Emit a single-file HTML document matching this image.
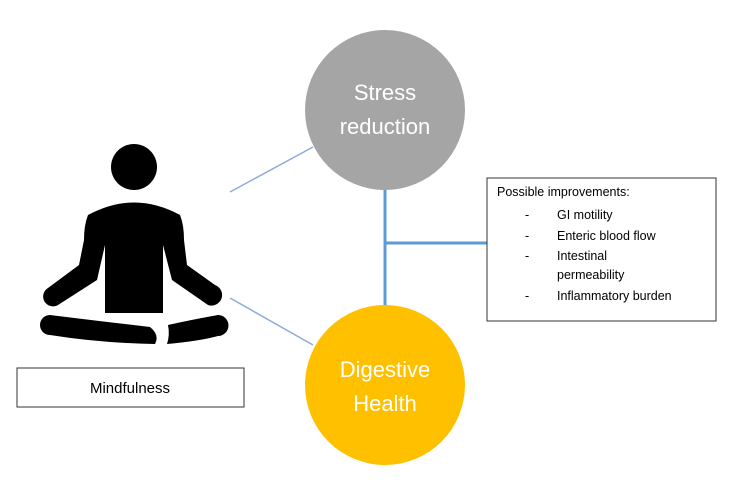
<!DOCTYPE html>
<html><head><style>
body{margin:0;background:#fff;width:735px;height:475px;overflow:hidden;font-family:"Liberation Sans",sans-serif}
</style></head><body>
<svg width="735" height="475" xmlns="http://www.w3.org/2000/svg">
<line x1="230" y1="192" x2="313" y2="147" stroke="#8eaadb" stroke-width="1.5"/>
<line x1="230" y1="298" x2="313" y2="345" stroke="#8eaadb" stroke-width="1.5"/>
<line x1="385" y1="188" x2="385" y2="308" stroke="#5b9bd5" stroke-width="3"/>
<line x1="385" y1="243" x2="487" y2="243" stroke="#5b9bd5" stroke-width="3"/>
<circle cx="385" cy="110" r="80" fill="#a5a5a5"/>
<circle cx="385" cy="385" r="80" fill="#ffc000"/>
<text x="385" y="100" fill="#fff" font-size="22" text-anchor="middle">Stress</text>
<text x="385" y="134" fill="#fff" font-size="22" text-anchor="middle">reduction</text>
<text x="385" y="377" fill="#fff" font-size="22" text-anchor="middle">Digestive</text>
<text x="385" y="411" fill="#fff" font-size="22" text-anchor="middle">Health</text>
<rect x="487" y="178" width="229" height="143" fill="#fff" stroke="#333" stroke-width="1"/>
<g font-size="12.5" fill="#000">
<text x="497" y="196">Possible improvements:</text>
<text x="525" y="219">-</text><text x="557" y="219">GI motility</text>
<text x="525" y="240">-</text><text x="557" y="240">Enteric blood flow</text>
<text x="525" y="260">-</text><text x="557" y="260">Intestinal</text>
<text x="557" y="279">permeability</text>
<text x="525" y="300">-</text><text x="557" y="300">Inflammatory burden</text>
</g>
<rect x="17" y="368" width="227" height="39" fill="#fff" stroke="#333" stroke-width="1"/>
<text x="130" y="393" font-size="15" text-anchor="middle">Mindfulness</text>
<circle cx="134" cy="167" r="23"/>
<path d="M88 215 Q134 190 180 215 Q184 225 184 240 L187 265 L215 285 A9 9 0 0 1 208 305 L172 280 L163 245 L163 313 L105 313 L105 245 L97 280 L58 305 A9 9 0 0 1 48 288 L79 265 L84 240 Q84 225 88 215 Z"/>
<path d="M50 315 Q90 320 150 327 Q160 335 155 344 Q100 343 50 335 A10 10 0 0 1 50 315 Z"/>
<path d="M218 315 Q190 320 168 325 Q170 335 167 344 Q200 341 218 336 A10 10 0 0 0 218 315 Z"/>
</svg>
</body></html>
